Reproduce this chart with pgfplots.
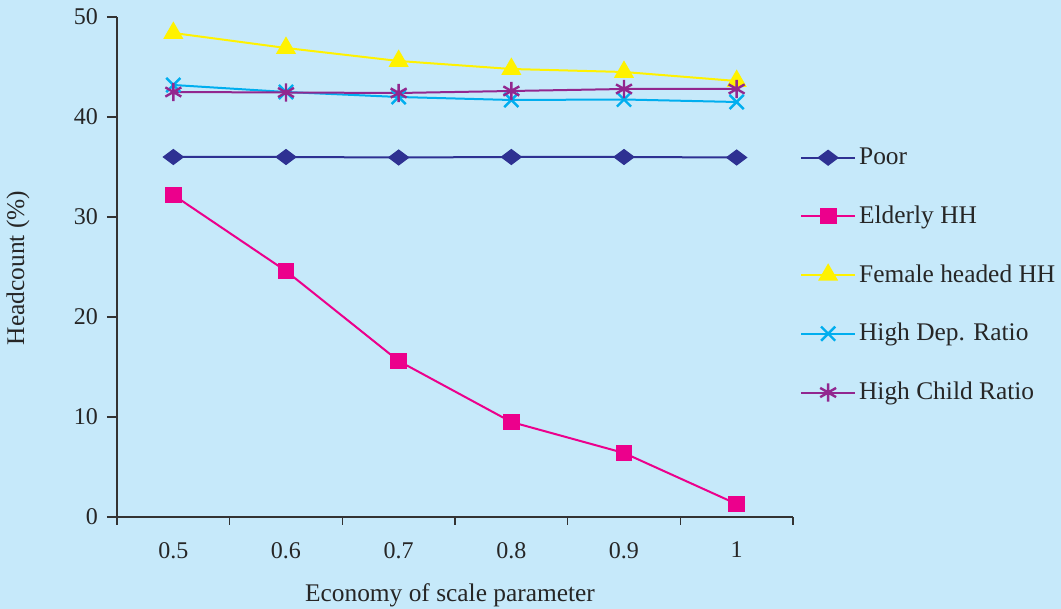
\documentclass[border=0pt]{standalone}
\usepackage{pgfplots}
\pgfplotsset{compat=1.18}
\usepackage{fontspec}
\setmainfont{Liberation Serif}
\definecolor{bgblue}{HTML}{C6E9FA}
\definecolor{cpoor}{HTML}{2E3192}
\definecolor{celder}{HTML}{EC008C}
\definecolor{cfem}{HTML}{FFF200}
\definecolor{cdep}{HTML}{00AEEF}
\definecolor{cchild}{HTML}{92278F}
\definecolor{axgray}{HTML}{333333}
\begin{document}
\begin{tikzpicture}
\fill[bgblue] (-58.5pt,-46pt) rectangle (472pt,258.5pt);
\useasboundingbox (-58.5pt,-46pt) rectangle (472pt,258.5pt);
\begin{axis}[
  at={(0pt,0pt)}, anchor=south west,
  scale only axis, width=338pt, height=250pt,
  xmin=-0.5, xmax=5.5, ymin=0, ymax=50,
  axis x line*=bottom, axis y line*=left,
  axis line style={axgray, line width=0.6pt, -},
  /pgf/number format/assume math mode=true,
  xtick={0,1,2,3,4,5},
  xticklabels={0.5,0.6,0.7,0.8,0.9,1},
  major x tick style={draw=none},
  minor xtick={-0.5,0.5,1.5,2.5,3.5,4.5,5.5},
  minor x tick style={axgray, line width=0.6pt},
  minor tick length=4pt,
  ytick={0,10,20,30,40,50},
  y tick style={axgray, line width=0.6pt},
  major tick length=5pt,
  tick align=outside,
  xticklabel style={yshift=-4pt},
  yticklabel style={xshift=-1pt},
  tick label style={font=\fontsize{12}{14}\selectfont, text=black!85},
  xlabel={Economy of scale parameter},
  ylabel={Headcount (\%)},
  label style={font=\fontsize{12.7}{15}\selectfont, text=black!85},
  xlabel style={at={(axis description cs:0.4926,-0.156)}, anchor=center},
  ylabel style={at={(axis description cs:-0.1464,0.498)}, anchor=center},
  legend style={at={(axis description cs:1.01,0.745)}, anchor=north west, draw=none, fill=none,
    font=\fontsize{12.7}{15}\selectfont, row sep=16.1pt, inner sep=0pt,
    nodes={inner sep=1.5pt, text=black!85}},
  legend cell align=left,
  legend image code/.code={\draw[mark repeat=2,mark phase=2,#1] plot coordinates {(0pt,0pt) (13.5pt,0pt) (27pt,0pt)};},
  every axis plot/.append style={line width=1pt},
]
\addplot[cpoor, mark=diamond*, mark size=4.6pt, mark options={fill=cpoor, rotate=90}] coordinates {(0,36.0) (1,36.0) (2,35.95) (3,36.0) (4,36.0) (5,35.95)};
\addlegendentry{Poor}
\addplot[celder, mark=square*, mark size=3.7pt, mark options={fill=celder}] coordinates {(0,32.2) (1,24.6) (2,15.6) (3,9.5) (4,6.4) (5,1.3)};
\addlegendentry{Elderly HH}
\addplot[cfem, mark=triangle*, mark size=4.8pt, mark options={fill=cfem}] coordinates {(0,48.4) (1,46.9) (2,45.6) (3,44.8) (4,44.5) (5,43.6)};
\addlegendentry{Female headed HH}
\addplot[cdep, mark=x, mark size=5pt, mark options={line width=1.2pt}] coordinates {(0,43.2) (1,42.5) (2,42.0) (3,41.7) (4,41.75) (5,41.5)};
\addlegendentry{High Dep. Ratio}
\addplot[cchild, mark=asterisk, mark size=4.6pt, mark options={line width=1.2pt}] coordinates {(0,42.5) (1,42.45) (2,42.4) (3,42.6) (4,42.8) (5,42.8)};
\addlegendentry{High Child Ratio}
\end{axis}
\end{tikzpicture}
\end{document}
